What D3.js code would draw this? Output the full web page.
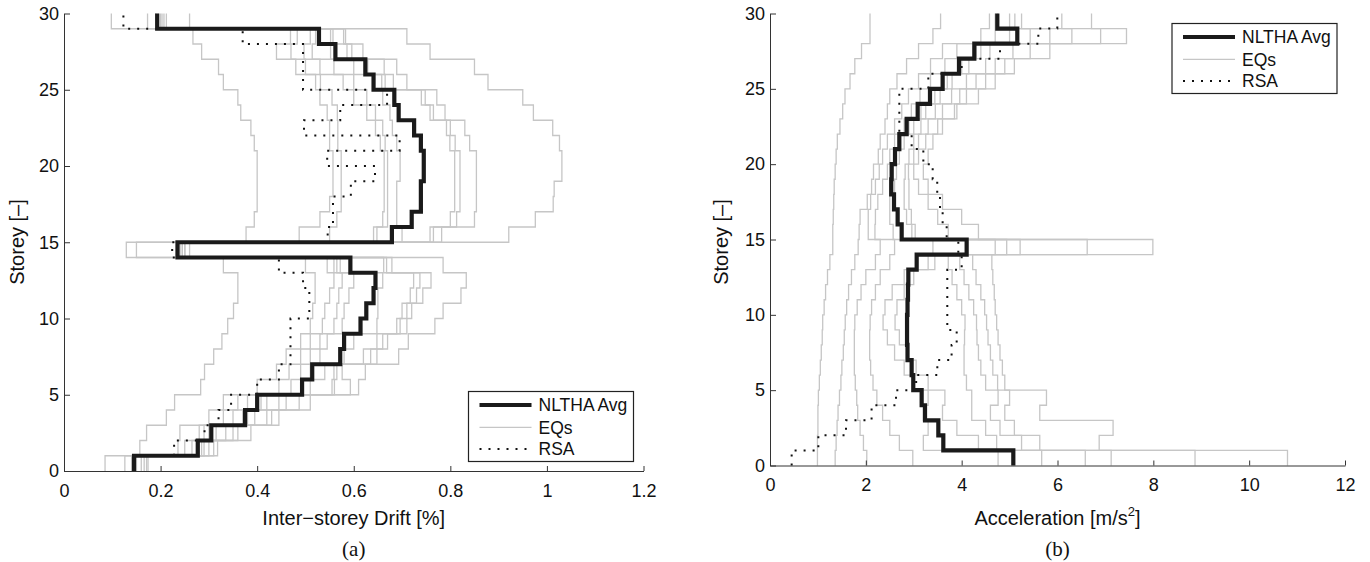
<!DOCTYPE html>
<html><head><meta charset="utf-8">
<script src="https://cdn.jsdelivr.net/npm/d3@7"></script>
<style>body{margin:0;background:#fff;}svg{display:block;}</style>
</head><body><svg id="c" width="1370" height="562"></svg>
<script>
// ---- DATA (value per storey 1..30; segment from storey i-1 to i) ----
const storeyTicks = [0,5,10,15,20,25,30];
const driftTicks = [0,0.2,0.4,0.6,0.8,1,1.2];
const accTicks = [0,2,4,6,8,10,12];
const legendLabels = ["NLTHA Avg","EQs","RSA"];

const driftMean = [0.145,0.277,0.305,0.375,0.40,0.493,0.514,0.572,0.58,0.614,0.626,0.641,0.645,0.593,0.235,0.679,0.72,0.739,0.739,0.745,0.745,0.739,0.725,0.693,0.684,0.641,0.624,0.562,0.528,0.193];
const driftRSA = [null,0.228,0.291,0.32,0.346,0.40,0.445,0.469,0.469,0.469,0.508,0.508,0.495,0.445,0.224,0.546,0.557,0.557,0.594,0.644,0.545,0.695,0.497,0.572,0.669,0.495,0.495,0.495,0.37,0.123];
const driftEQ1 = [0.085,0.157,0.171,0.212,0.229,0.283,0.291,0.31,0.327,0.339,0.351,0.36,0.36,0.33,0.129,0.377,0.394,0.40,0.40,0.40,0.40,0.394,0.387,0.366,0.36,0.33,0.32,0.285,0.267,0.098];
const driftEQ2 = [0.126,0.236,0.24,0.30,0.33,0.40,0.44,0.46,0.49,0.51,0.515,0.52,0.52,0.50,0.15,0.487,0.53,0.55,0.557,0.557,0.557,0.55,0.55,0.545,0.53,0.521,0.48,0.44,0.469,0.173];
const driftEQ3 = [0.14,0.25,0.28,0.33,0.36,0.445,0.466,0.49,0.51,0.535,0.54,0.55,0.559,0.545,0.24,0.55,0.565,0.574,0.574,0.574,0.574,0.567,0.567,0.566,0.555,0.531,0.50,0.47,0.483,0.203];
const driftEQ4 = [0.142,0.265,0.29,0.35,0.38,0.47,0.49,0.51,0.53,0.559,0.565,0.569,0.576,0.559,0.245,0.641,0.66,0.663,0.663,0.663,0.663,0.655,0.645,0.627,0.60,0.578,0.53,0.497,0.51,0.207];
const driftEQ5 = [0.148,0.28,0.30,0.37,0.408,0.49,0.51,0.53,0.545,0.576,0.58,0.59,0.60,0.565,0.25,0.648,0.67,0.67,0.67,0.67,0.67,0.665,0.66,0.645,0.627,0.60,0.559,0.514,0.521,0.212];
const driftEQ6 = [0.15,0.285,0.315,0.38,0.42,0.51,0.54,0.58,0.60,0.648,0.65,0.65,0.66,0.572,0.24,0.70,0.689,0.689,0.689,0.696,0.696,0.689,0.68,0.675,0.66,0.658,0.60,0.552,0.552,0.19];
const driftEQ7 = [0.16,0.29,0.335,0.395,0.445,0.555,0.559,0.62,0.648,0.689,0.70,0.717,0.724,0.662,0.245,0.758,0.80,0.809,0.809,0.809,0.809,0.799,0.792,0.758,0.74,0.665,0.629,0.586,0.557,0.195];
const driftEQ8 = [0.166,0.30,0.35,0.42,0.46,0.56,0.565,0.635,0.66,0.696,0.71,0.73,0.737,0.668,0.25,0.765,0.813,0.82,0.82,0.82,0.82,0.81,0.80,0.765,0.748,0.682,0.663,0.596,0.579,0.19];
const driftEQ9 = [0.171,0.31,0.36,0.43,0.487,0.593,0.576,0.648,0.67,0.71,0.72,0.743,0.76,0.679,0.26,0.782,0.85,0.854,0.854,0.854,0.854,0.84,0.83,0.789,0.772,0.71,0.689,0.619,0.583,0.20];
const driftEQ10 = [0.174,0.318,0.387,0.445,0.51,0.61,0.624,0.693,0.713,0.768,0.785,0.822,0.833,0.785,0.25,0.921,0.976,1.013,1.015,1.031,1.031,1.026,1.012,0.972,0.95,0.878,0.85,0.758,0.71,0.26];

const accMean = [5.078,3.617,3.513,3.235,3.165,2.99,2.956,2.87,2.86,2.86,2.87,2.88,2.887,3.061,4.104,2.748,2.664,2.588,2.53,2.539,2.609,2.699,2.852,3.082,3.339,3.603,3.944,4.264,5.161,4.744];
const accRSA = [0.452,1.009,1.586,2.12,2.63,3.05,3.492,3.79,3.896,3.70,3.70,3.70,3.70,4.0,3.93,3.687,3.603,3.548,3.49,3.395,3.2,2.956,2.699,2.699,2.699,3.304,4.0,4.8,5.6,5.996];
const accEQ1 = [0.99,0.99,1.0,1.0,1.01,1.03,1.05,1.07,1.09,1.1,1.13,1.16,1.2,1.25,1.31,1.31,1.32,1.33,1.34,1.36,1.38,1.405,1.46,1.517,1.565,1.67,1.77,1.91,2.087,2.087];
const accEQ2 = [1.36,1.38,1.4,1.42,1.45,1.48,1.5,1.53,1.55,1.57,1.6,1.64,1.7,1.77,1.84,1.86,1.88,2.03,2.12,2.16,2.26,2.3,2.4,2.45,2.5,2.65,2.85,3.1,3.4,3.56];
const accEQ3 = [2.02,1.95,1.88,1.83,1.81,1.78,1.76,1.76,1.76,1.77,1.82,1.9,2.0,2.2,2.3,2.05,2.05,2.1,2.2,2.28,2.35,2.45,2.6,2.75,2.89,3.1,3.35,3.6,4.4,4.58];
const accEQ4 = [2.98,2.7,2.5,2.35,2.23,2.15,2.1,2.08,2.08,2.09,2.12,2.2,2.3,2.5,2.6,2.19,2.2,2.25,2.35,2.45,2.5,2.6,2.8,2.95,3.13,3.35,3.65,3.9,4.7,4.7];
const accEQ5 = [4.76,3.2,3.3,3.2,3.3,3.0,2.8,2.6,2.45,2.36,2.4,2.55,2.8,3.3,3.4,2.57,2.5,2.5,2.5,2.57,2.6,2.7,2.9,3.15,3.44,3.7,4.0,4.3,5.0,4.75];
const accEQ6 = [5.67,4.35,3.9,3.6,3.65,3.3,3.05,2.85,2.7,2.61,2.65,2.8,3.0,3.44,4.7,2.75,2.65,2.6,2.6,2.64,2.7,2.8,3.0,3.25,3.55,3.8,4.15,4.4,5.43,5.11];
const accEQ7 = [6.58,4.73,4.5,4.21,4.21,4.1,4.05,4.05,4.06,4.07,4.0,3.9,3.8,3.72,4.94,2.96,2.85,2.8,2.8,2.82,2.9,3.0,3.15,3.45,3.79,4.1,4.5,4.59,5.84,5.25];
const accEQ8 = [7.12,5.25,4.8,4.6,4.76,4.5,4.4,4.35,4.32,4.31,4.25,4.15,4.05,3.96,5.22,3.03,2.95,2.9,2.9,2.89,3.0,3.1,3.3,3.6,3.96,4.3,4.7,5.07,6.3,6.09];
const accEQ9 = [8.87,5.63,5.1,4.9,5.0,4.75,4.65,4.6,4.55,4.52,4.48,4.4,4.3,4.23,6.62,3.72,3.5,3.3,3.1,3.0,3.1,3.25,3.5,3.9,4.35,4.7,5.1,5.43,6.9,6.71];
const accEQ10 = [10.8,6.87,7.16,5.63,5.77,4.9,4.85,4.8,4.76,4.73,4.7,4.68,4.65,4.63,7.99,4.35,4.0,3.6,3.3,3.2,3.3,3.4,3.6,3.85,4.1,4.5,4.9,5.84,7.44,5.0];

// ---- DRAWING ----
const svg = d3.select('#c');
const SANS = '"Liberation Sans", Arial, Helvetica, sans-serif';
const SERIF = '"Liberation Serif", "Times New Roman", serif';
const GRAY = '#c6c6c6';

function stepPoints(vals){
  const p = [];
  vals.forEach((v,i)=>{ if(v!=null){ p.push([v,i]); p.push([v,i+1]); } });
  return p;
}

function panel(cfg){
  const g = svg.append('g');
  const x = d3.scaleLinear().domain(cfg.xDomain).range(cfg.xRange);
  const y = d3.scaleLinear().domain([0,30]).range(cfg.yRange);
  const line = d3.line().x(d=>x(d[0])).y(d=>y(d[1]));

  cfg.eqs.forEach(vals=>{
    g.append('path').attr('d', line(stepPoints(vals)))
      .attr('fill','none').attr('stroke',GRAY).attr('stroke-width',1.3);
  });
  g.append('path').attr('d', line(stepPoints(cfg.rsa)))
    .attr('fill','none').attr('stroke','#111').attr('stroke-width',2)
    .attr('stroke-dasharray','2,7');

  const ax = g.append('g').attr('transform',`translate(0,${cfg.yRange[0]})`)
    .call(d3.axisBottom(x).tickValues(cfg.xTicks).tickFormat(d=>String(d))
      .tickSizeInner(-5).tickSizeOuter(0).tickPadding(13));
  const ay = g.append('g').attr('transform',`translate(${cfg.xRange[0]},0)`)
    .call(d3.axisLeft(y).tickValues(storeyTicks).tickFormat(d=>String(d))
      .tickSizeInner(-6).tickSizeOuter(0).tickPadding(5));
  [ax,ay].forEach(a=>{
    a.attr('font-size',18).attr('font-family',SANS);
    a.selectAll('path,line').attr('stroke','#333').attr('stroke-width',1);
    a.selectAll('text').attr('fill','#111');
  });

  g.append('path').attr('d', line(stepPoints(cfg.mean)))
    .attr('fill','none').attr('stroke','#1a1a1a').attr('stroke-width',4.2)
    .attr('stroke-linejoin','miter');

  const cx = (cfg.xRange[0]+cfg.xRange[1])/2;
  const t = g.append('text').attr('x',cx).attr('y',525).attr('text-anchor','middle')
    .attr('font-family',SANS).attr('font-size',20).attr('fill','#111');
  cfg.xTitle(t);
  g.append('text').attr('transform',`translate(${cfg.yTitleX},242) rotate(-90)`)
    .attr('text-anchor','middle').attr('font-family',SANS).attr('font-size',20)
    .attr('fill','#111').text('Storey [–]');
  g.append('text').attr('x',cx).attr('y',556).attr('text-anchor','middle')
    .attr('font-family',SERIF).attr('font-size',21).attr('fill','#111').text(cfg.tag);

  const L = g.append('g').attr('transform',`translate(${cfg.legend[0]},${cfg.legend[1]})`);
  L.append('rect').attr('width',165).attr('height',70).attr('fill','#fff')
    .attr('stroke','#222').attr('stroke-width',1.2);
  const rows = [13.5,35.8,57.4];
  const styles = [
    {s:'#1a1a1a',w:4.2,d:null},
    {s:GRAY,w:1.3,d:null},
    {s:'#111',w:2,d:'2,7'}
  ];
  legendLabels.forEach((lab,i)=>{
    const st = styles[i];
    const ln = L.append('line').attr('x1',11).attr('x2',63).attr('y1',rows[i]).attr('y2',rows[i])
      .attr('stroke',st.s).attr('stroke-width',st.w);
    if(st.d) ln.attr('stroke-dasharray',st.d);
    L.append('text').attr('x',70).attr('y',rows[i]+6.3).attr('font-family',SANS)
      .attr('font-size',17.5).attr('fill','#111').text(lab);
  });
}

panel({
  xDomain:[0,1.2], xRange:[64,643.5], yRange:[471,13.5], xTicks:driftTicks,
  eqs:[driftEQ1,driftEQ2,driftEQ3,driftEQ4,driftEQ5,driftEQ6,driftEQ7,driftEQ8,driftEQ9,driftEQ10],
  rsa:driftRSA, mean:driftMean, yTitleX:24, tag:'(a)', legend:[468.5,391.5],
  xTitle: t=>t.text('Inter−storey Drift [%]')
});
panel({
  xDomain:[0,12], xRange:[770,1345], yRange:[465.5,13.5], xTicks:accTicks,
  eqs:[accEQ1,accEQ2,accEQ3,accEQ4,accEQ5,accEQ6,accEQ7,accEQ8,accEQ9,accEQ10],
  rsa:accRSA, mean:accMean, yTitleX:728, tag:'(b)', legend:[1172,23.5],
  xTitle: t=>{
    t.append('tspan').text('Acceleration [m/s');
    t.append('tspan').attr('font-size',13).attr('dy',-9).text('2');
    t.append('tspan').attr('dy',9).text(']');
  }
});
</script>
</body></html>
